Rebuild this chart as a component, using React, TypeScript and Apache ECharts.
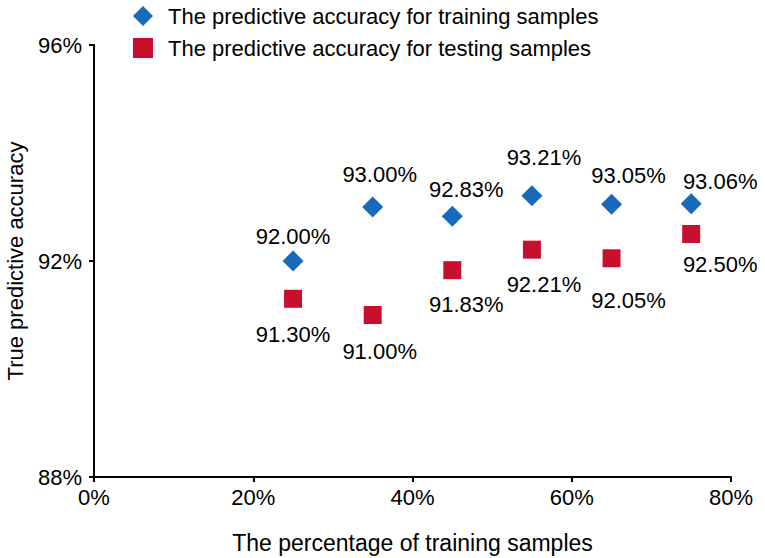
import React, { useEffect, useRef } from "react";
import * as echarts from "echarts";

// Data
const xPercent = [25, 35, 45, 55, 65, 75];
const trainingAccuracy = [92.0, 93.0, 92.83, 93.21, 93.05, 93.06];
const testingAccuracy = [91.3, 91.0, 91.83, 92.21, 92.05, 92.5];
const seriesNames = [
  "The predictive accuracy for training samples",
  "The predictive accuracy for testing samples",
];
const axisNames = ["The percentage of training samples", "True predictive accuracy"];

// Layout (label placement as in the reference)
const trainLabelOffset = [[0, -25], [7, -33], [14, -27], [12, -38], [17, -29], [29, -22]];
const testLabelOffset = [[0, 36], [7, 36], [14, 34], [12, 35], [17, 42], [29, 30]];

const FONT = "'Liberation Sans', Arial, Helvetica, sans-serif";
const BLUE = "#176ABC";
const RED = "#C8102E";

export default function App() {
  const ref = useRef<HTMLDivElement>(null);
  useEffect(() => {
    document.body.style.margin = "0";
    const chart = echarts.init(ref.current!, null, { renderer: "svg" });
    const mk = (vals: number[], offs: number[][]) =>
      vals.map((v, i) => ({
        value: [xPercent[i], v],
        label: { offset: offs[i] },
      }));
    const labelBase = {
      show: true,
      position: "inside",
      color: "#000",
      opacity: 1,
      fontSize: 22,
      fontFamily: FONT,
      formatter: (p: any) => p.value[1].toFixed(2) + "%",
    };
    chart.setOption({
      animation: false,
      textStyle: { fontFamily: FONT, color: "#000" },
      legend: {
        orient: "vertical",
        left: 128,
        top: 0,
        itemWidth: 20,
        itemHeight: 20,
        itemGap: 10,
        textStyle: { fontSize: 22, color: "#000", fontFamily: FONT, padding: [0, 0, 0, 10] },
        data: [
          { name: seriesNames[0], icon: "diamond" },
          { name: seriesNames[1], icon: "rect" },
        ],
      },
      grid: {
        left: 94,
        right: 34,
        top: 45,
        bottom: 81,
        containLabel: false,
        outerBoundsMode: "none",
      },
      xAxis: {
        type: "value",
        min: 0,
        max: 80,
        interval: 20,
        name: axisNames[0],
        nameLocation: "middle",
        nameGap: 54,
        nameTextStyle: { fontSize: 23, color: "#000", fontFamily: FONT },
        axisLine: { show: true, lineStyle: { color: "#000", width: 2 } },
        axisTick: { show: true, length: 5, lineStyle: { color: "#000", width: 2 } },
        axisLabel: { fontSize: 22, color: "#000", margin: 9, formatter: (v: number) => v + "%" },
        splitLine: { show: false },
      },
      yAxis: {
        type: "value",
        min: 88,
        max: 96,
        interval: 4,
        name: axisNames[1],
        nameLocation: "middle",
        nameGap: 68,
        nameTextStyle: { fontSize: 22, color: "#000", fontFamily: FONT },
        axisLine: { show: true, lineStyle: { color: "#000", width: 2 } },
        axisTick: { show: true, length: 5, lineStyle: { color: "#000", width: 2 } },
        axisLabel: { fontSize: 22, color: "#000", margin: 12, formatter: (v: number) => v + "%" },
        splitLine: { show: false },
      },
      series: [
        {
          name: seriesNames[0],
          type: "scatter",
          symbol: "diamond",
          symbolSize: 21,
          itemStyle: { color: BLUE, opacity: 1 },
          label: labelBase,
          data: mk(trainingAccuracy, trainLabelOffset),
        },
        {
          name: seriesNames[1],
          type: "scatter",
          symbol: "rect",
          symbolSize: 18,
          itemStyle: { color: RED, opacity: 1 },
          label: labelBase,
          data: mk(testingAccuracy, testLabelOffset),
        },
      ],
    });
    return () => chart.dispose();
  }, []);
  return <div ref={ref} style={{ width: 765, height: 558 }} />;
}
